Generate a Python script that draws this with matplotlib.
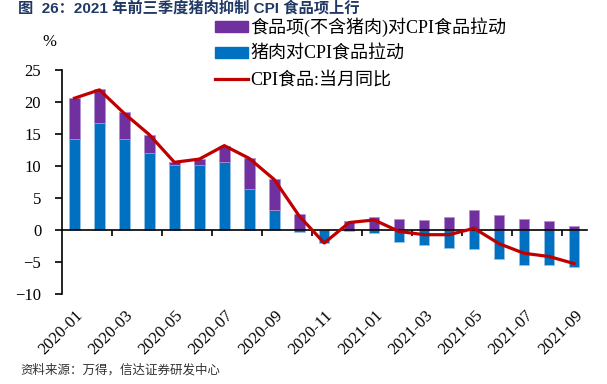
import numpy as np
import matplotlib
matplotlib.use("Agg")
import matplotlib.pyplot as plt
from matplotlib.patches import Patch
from matplotlib.lines import Line2D
import matplotlib.transforms as mtransforms

plt.rcParams['font.family'] = ['Liberation Serif', 'Noto Sans CJK SC', 'DejaVu Sans']

# months
months = ['2020-01', '2020-02', '2020-03', '2020-04', '2020-05', '2020-06', '2020-07',
          '2020-08', '2020-09', '2020-10', '2020-11', '2020-12', '2021-01', '2021-02',
          '2021-03', '2021-04', '2021-05', '2021-06', '2021-07', '2021-08', '2021-09']
# pork contribution to CPI food
pork = [14.3, 16.7, 14.3, 12.0, 10.1, 10.1, 10.6, 6.5, 3.2, -0.3, -2.0,
        -0.2, -0.5, -1.8, -2.3, -2.7, -2.9, -4.5, -5.4, -5.5, -5.8]
# food excluding pork contribution
other = [6.4, 5.3, 4.1, 2.8, 0.5, 1.0, 2.6, 4.7, 4.8, 2.5, 0.0,
         1.4, 2.1, 1.7, 1.6, 2.0, 3.2, 2.3, 1.7, 1.4, 0.6]
# CPI food YoY
cpi_food = [20.6, 21.9, 18.2, 14.9, 10.6, 11.1, 13.2, 11.2, 7.9, 2.2, -2.0,
            1.2, 1.6, -0.2, -0.7, -0.7, 0.3, -2.1, -3.6, -4.1, -5.2]

purple = '#7030A0'
blue = '#0070C0'
red = '#C00000'

fig = plt.figure(figsize=(6.07, 3.84), dpi=100)
ax = fig.add_axes([62 / 607, 1 - 294.3 / 384, 524.5 / 607, 224.3 / 384])

x = np.arange(len(months))
pork = np.array(pork)
other = np.array(other)
# stack: positive parts upward, negative parts downward
pos_base = np.zeros(len(x))
neg_base = np.zeros(len(x))
for vals, col in [(pork, blue), (other, purple)]:
    bottoms = np.where(vals >= 0, pos_base, neg_base)
    ax.bar(x, vals, width=0.42, bottom=bottoms, color=col,
           edgecolor='#9DC3E6' if col == blue else '#B08FCC', linewidth=0.5, zorder=2)
    pos_base = pos_base + np.where(vals >= 0, vals, 0)
    neg_base = neg_base + np.where(vals < 0, vals, 0)

ax.plot(x, cpi_food, color=red, linewidth=2.3, zorder=3)

ax.set_xlim(-0.5, len(months) - 0.5)
ax.set_ylim(-10, 25)
ax.set_yticks(range(-10, 26, 5))
ax.tick_params(axis='y', direction='out', length=5, width=1.2, labelsize=12, pad=10)

# x axis drawn through zero
ax.spines['top'].set_visible(False)
ax.spines['right'].set_visible(False)
ax.spines['bottom'].set_position(('data', 0))
ax.spines['bottom'].set_linewidth(1.2)
ax.spines['left'].set_linewidth(1.2)
ax.set_xticks(np.arange(1.5, len(months) - 1, 2))
ax.set_xticklabels([])
ax.tick_params(axis='x', direction='out', length=4, width=1.2)

trans = mtransforms.blended_transform_factory(ax.transData, ax.transAxes)
offset = mtransforms.ScaledTranslation(0.5 / 100, -13.5 / 100, fig.dpi_scale_trans)
for i in range(0, len(months), 2):
    ax.text(i, 0, months[i], transform=trans + offset, rotation=45,
            ha='right', va='top', fontsize=12, rotation_mode='anchor')

fig.text(49 / 607, 1 - 42 / 384, '%', fontsize=12, ha='center', va='center')

handles = [Patch(facecolor=purple, edgecolor=purple),
           Patch(facecolor=blue, edgecolor=blue),
           Line2D([0], [0], color=red, linewidth=2.3)]
labels = ['食品项(不含猪肉)对CPI食品拉动', '猪肉对CPI食品拉动', 'CPI食品:当月同比']
fig.legend(handles, labels, loc='upper left', bbox_to_anchor=(215 / 607, 1 - 17 / 384),
           frameon=False, fontsize=13, handlelength=1.83, handleheight=0.55,
           handletextpad=0.12, labelspacing=0.5, borderpad=0, borderaxespad=0)

fig.text(18 / 607, 1 - 8 / 384, '图  26：2021 年前三季度猪肉抑制 CPI 食品项上行',
         fontsize=11, fontweight='bold', color='#1F3864', va='center', ha='left',
         family=['Liberation Sans', 'Noto Sans CJK SC'])
fig.text(20 / 607, 1 - 370 / 384, '资料来源：万得，信达证券研发中心',
         fontsize=9, style='italic', color='#333333', va='center', ha='left',
         family=['Noto Sans CJK SC'])

fig.savefig('out.png', dpi=100)
